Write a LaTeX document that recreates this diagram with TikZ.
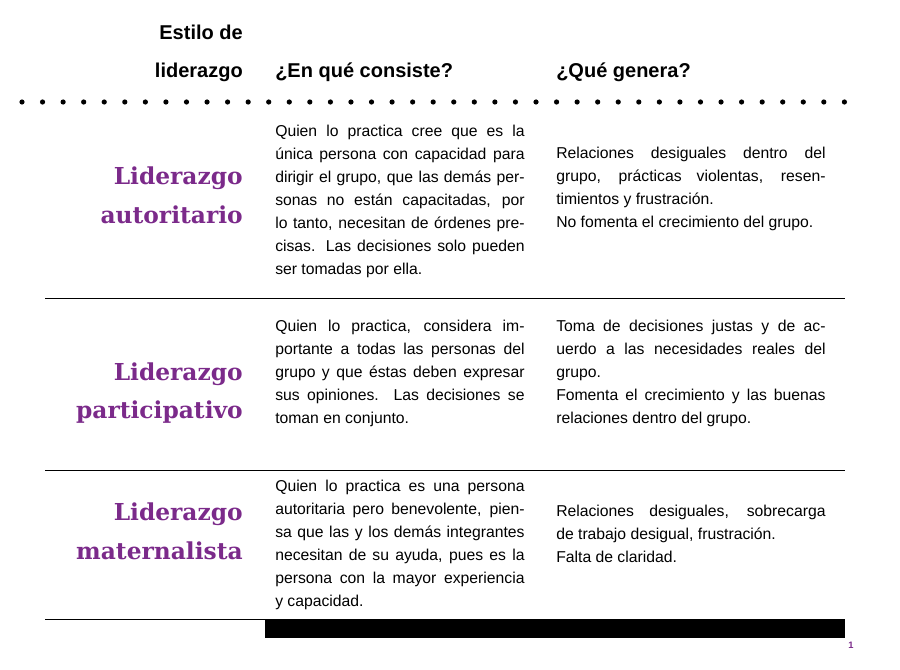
\documentclass[tikz,border=0pt]{standalone}
\usepackage{fontspec}
\setmainfont{Liberation Sans}
\newfontfamily\slabfont{DejaVu Serif}
\usepackage{tikz}
\hbadness=10000 \hfuzz=20pt
\definecolor{lidpurple}{HTML}{7B2A8A}
\tikzset{
  head/.style={font=\fontsize{15}{28.5}\selectfont\bfseries, inner sep=0pt},
  style name/.style={font=\fontsize{17.5}{29}\slabfont\bfseries, text=lidpurple, align=right, anchor=east, inner sep=0pt},
  cell/.style={font=\fontsize{11.8}{17.25}\selectfont, align=justify, anchor=west, inner sep=0pt},
  rule/.style={line width=0.6pt}
}
\begin{document}
\begin{tikzpicture}[x=0.75pt,y=-0.75pt]
  \useasboundingbox (0,0) rectangle (900,670);
  % header
  \node[head, anchor=base east, align=right] (hstyle) at (243,78) {Estilo de\\liderazgo};
  \node[head, anchor=base west] (hcons) at (275,78) {¿En qué consiste?};
  \node[head, anchor=base west] (hgen) at (556,78) {¿Qué genera?};
  \foreach \n in {0,...,40}
    \fill (22+\n*20.56,102) circle (2.6);
  % row 1
  \node[style name] (n1) at (243,195) {Liderazgo\\autoritario};
  \node[cell, text width=187pt] (c1) at (275,201) {Quien lo practica cree que es la\linebreak única persona con capacidad para\linebreak dirigir el grupo, que las demás per-\linebreak sonas no están capacitadas, por\linebreak lo tanto, necesitan de órdenes pre-\linebreak cisas. Las decisiones solo pueden\linebreak ser tomadas por ella.};
  \node[cell, text width=202pt] (g1) at (556,189) {Relaciones desiguales dentro del\linebreak grupo, prácticas violentas, resen-\linebreak timientos y frustración.\\No fomenta el crecimiento del grupo.};
  \draw[rule] (45,298) -- (845,298);
  % row 2
  \node[style name] (n2) at (243,393) {Liderazgo\\participativo};
  \node[cell, text width=187pt] (c2) at (275,373) {Quien lo practica, considera im-\linebreak portante a todas las personas del\linebreak grupo y que éstas deben expresar\linebreak sus opiniones. Las decisiones se\linebreak toman en conjunto.};
  \node[cell, text width=202pt] (g2) at (556,373) {Toma de decisiones justas y de ac-\linebreak uerdo a las necesidades reales del\linebreak grupo.\\Fomenta el crecimiento y las buenas\linebreak relaciones dentro del grupo.};
  \draw[rule] (45,470) -- (845,470);
  % row 3
  \node[style name] (n3) at (243,531) {Liderazgo\\maternalista};
  \node[cell, text width=187pt] (c3) at (275,545) {Quien lo practica es una persona\linebreak autoritaria pero benevolente, pien-\linebreak sa que las y los demás integrantes\linebreak necesitan de su ayuda, pues es la\linebreak persona con la mayor experiencia\linebreak y capacidad.};
  \node[cell, text width=202pt] (g3) at (556,534) {Relaciones desiguales, sobrecarga\linebreak de trabajo desigual, frustración.\\Falta de claridad.};
  \draw[rule] (45,619) -- (845,619);
  \fill (265,620) rectangle (845,638);
  \node[font=\fontsize{7}{8}\selectfont\bfseries, text=lidpurple, inner sep=0pt] (page) at (851,645) {1};
\end{tikzpicture}
\end{document}
